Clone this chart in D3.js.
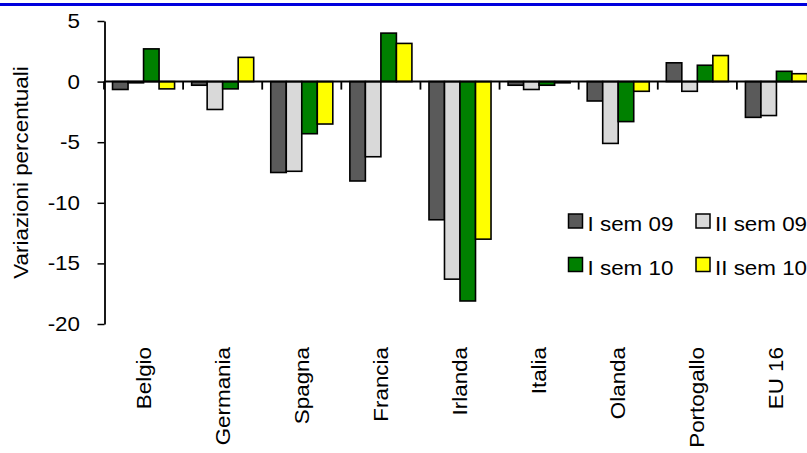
<!DOCTYPE html>
<html lang='it'>
    <head>
        <meta charset="utf-8">
        <script src="https://d3js.org/d3.v7.min.js"></script>
    </head>
    <style>
        body{
            margin:0px;
            padding:0px;
            background-color:white;
        }
        svg{
            display:block;
            font-family:"Liberation Sans", Arial, sans-serif;
        }
        .bar{
            stroke:#000;
            stroke-width:1.6;
        }
    </style>
    <body>
        <svg id="chart" width="807" height="453"></svg>
        <script>
            // dati: variazioni percentuali per semestre
            const categories=['Belgio','Germania','Spagna','Francia','Irlanda','Italia','Olanda','Portogallo','EU 16'];
            const seriesNames=['I sem 09','II sem 09','I sem 10','II sem 10'];
            const isem09=[-0.65,-0.3,-7.5,-8.2,-11.4,-0.3,-1.6,1.55,-2.95];
            const iisem09=[-0.1,-2.3,-7.4,-6.2,-16.3,-0.65,-5.1,-0.8,-2.8];
            const isem10=[2.7,-0.6,-4.3,4.0,-18.1,-0.3,-3.3,1.35,0.85];
            const iisem10=[-0.6,2.0,-3.5,3.15,-13.0,-0.1,-0.8,2.15,0.65];
            const yTicks=[5,0,-5,-10,-15,-20];
            const colors=['#5a5a5a','#d9d9d9','#008000','#ffff00'];

            const series=[isem09,iisem09,isem10,iisem10];
            const sx=1.12; // glyph stretch along reading direction
            const fs=20;

            const svg=d3.select('#chart');

            svg.append('rect')
               .attr('x',0).attr('y',3)
               .attr('width',807).attr('height',3)
               .attr('fill','#0000dd');

            const yScale=d3.scaleLinear()
                           .domain([-20,5])
                           .range([324,21]);
            const xScale=d3.scaleBand()
                           .domain(categories)
                           .range([104,816]);
            const xInner=d3.scaleBand()
                           .domain(seriesNames)
                           .range([0,xScale.bandwidth()])
                           .paddingInner(0)
                           .paddingOuter(0.55);

            // barre
            const groups=svg.selectAll('g.group')
               .data(categories)
               .enter()
               .append('g')
               .attr('class','group')
               .attr('transform',d=>'translate('+xScale(d)+',0)');

            groups.selectAll('rect')
               .data((d,i)=>series.map((s,j)=>({name:seriesNames[j],v:s[i],c:colors[j]})))
               .enter()
               .append('rect')
               .attr('class','bar')
               .attr('x',d=>xInner(d.name))
               .attr('y',d=>yScale(Math.max(0,d.v)))
               .attr('width',xInner.bandwidth())
               .attr('height',d=>Math.abs(yScale(d.v)-yScale(0)))
               .attr('fill',d=>d.c);

            // asse y
            const yAxis=d3.axisLeft(yScale)
                          .tickValues(yTicks)
                          .tickFormat(d=>String(d))
                          .tickSize(7)
                          .tickSizeOuter(0);
            const gy=svg.append('g')
               .attr('transform','translate(104.5,0)')
               .call(yAxis);
            gy.select('.domain').attr('stroke','#000').attr('stroke-width',1.8);
            gy.selectAll('.tick line').attr('stroke','#000').attr('stroke-width',1.5);
            gy.selectAll('.tick text')
              .attr('x',null)
              .attr('transform','translate(-24.5,0) scale('+sx+',1)')
              .attr('font-size',fs)
              .attr('font-family','Liberation Sans, Arial, sans-serif')
              .attr('fill','#000');

            // asse x sullo zero
            const y0=yScale(0);
            const bounds=categories.map(c=>xScale(c)).concat([xScale.range()[1]]);
            svg.append('line')
               .attr('x1',xScale.range()[0]).attr('x2',xScale.range()[1])
               .attr('y1',y0).attr('y2',y0)
               .attr('stroke','#000').attr('stroke-width',2);
            svg.selectAll('line.xtick')
               .data(bounds)
               .enter()
               .append('line')
               .attr('class','xtick')
               .attr('x1',d=>d).attr('x2',d=>d)
               .attr('y1',y0).attr('y2',y0+8)
               .attr('stroke','#000').attr('stroke-width',1.8);

            // etichette categorie
            svg.selectAll('text.cat')
               .data(categories)
               .enter()
               .append('text')
               .attr('class','cat')
               .attr('transform',d=>'translate('+(xScale(d)+xScale.bandwidth()/2)+',347) rotate(-90) scale('+sx+',1)')
               .attr('text-anchor','end')
               .attr('dy','0.35em')
               .attr('font-size',fs)
               .text(d=>d);

            // titolo asse y
            svg.append('text')
               .attr('transform','translate(27.5,'+((yScale(5)+yScale(-20))/2)+') rotate(-90) scale('+sx+',1)')
               .attr('text-anchor','middle')
               .attr('font-size',fs)
               .text('Variazioni percentuali');

            // legenda
            const legendPos=[[568.5,214],[696,214],[568.5,257.5],[696,257.5]];
            const legend=svg.selectAll('g.legend')
               .data(seriesNames)
               .enter()
               .append('g')
               .attr('class','legend')
               .attr('transform',(d,i)=>'translate('+legendPos[i][0]+','+legendPos[i][1]+')');
            legend.append('rect')
               .attr('width',14).attr('height',14)
               .attr('fill',(d,i)=>colors[i])
               .attr('stroke','#000').attr('stroke-width',1.5);
            legend.append('text')
               .attr('transform','translate(19,17) scale('+sx+',1)')
               .attr('font-size',fs)
               .text(d=>d);
        </script>
    </body>
</html>
